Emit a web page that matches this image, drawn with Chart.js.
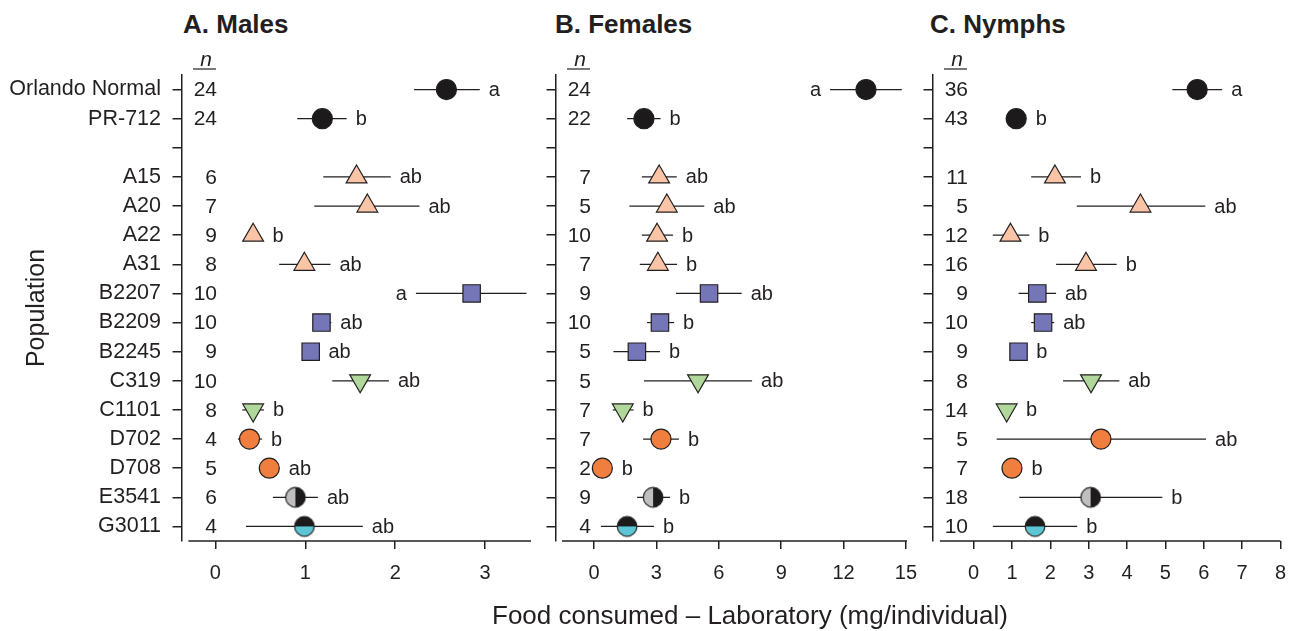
<!DOCTYPE html>
<html>
<head>
<meta charset="utf-8">
<script src="https://cdn.jsdelivr.net/npm/chart.js@4.4.1/dist/chart.umd.min.js"></script>
<style>
  body { margin: 0; background: #fff; width: 1298px; height: 631px; position: relative; overflow: hidden;
         font-family: "Liberation Sans", Arial, sans-serif; color: #231f20; }
  canvas { position: absolute; top: 0; }
  .panel-title { position: absolute; top: 11px; font-weight: bold; font-size: 26px; line-height: 26px; white-space: nowrap; }
  #xtitle { position: absolute; top: 602px; left: 750px; transform: translateX(-50%); font-size: 26px; line-height: 26px; white-space: nowrap; }
</style>
</head>
<body>
<div class="panel-title" style="left:183px">A. Males</div>
<div class="panel-title" style="left:555px">B. Females</div>
<div class="panel-title" style="left:930px">C. Nymphs</div>
<canvas id="males" width="560" height="631" style="left:0px"></canvas>
<canvas id="females" width="420" height="631" style="left:520px"></canvas>
<canvas id="nymphs" width="398" height="631" style="left:900px"></canvas>
<div id="xtitle">Food consumed – Laboratory (mg/individual)</div>
<script>
// rows, top to bottom (third row is an empty spacer)
const categories = ['Orlando Normal', 'PR-712', '', 'A15', 'A20', 'A22', 'A31', 'B2207', 'B2209',
                    'B2245', 'C319', 'C1101', 'D702', 'D708', 'E3541', 'G3011'];

const malesN       = [24, 24, null, 6, 7, 9, 8, 10, 10, 9, 10, 8, 4, 5, 6, 4];
const malesMean    = [2.57, 1.19, null, 1.57, 1.69, 0.42, 0.99, 2.85, 1.18, 1.06, 1.61, 0.42, 0.38, 0.60, 0.89, 0.99];
const malesLow     = [2.21, 0.91, null, 1.20, 1.10, 0.42, 0.71, 2.23, 1.09, 1.06, 1.30, 0.30, 0.25, 0.60, 0.64, 0.34];
const malesHigh    = [2.94, 1.46, null, 1.95, 2.27, 0.42, 1.28, 3.46, 1.29, 1.06, 1.93, 0.54, 0.52, 0.60, 1.14, 1.64];
const malesLetters = ['a', 'b', '', 'ab', 'ab', 'b', 'ab', 'a', 'ab', 'ab', 'ab', 'b', 'b', 'ab', 'ab', 'ab'];

const femalesN       = [24, 22, null, 7, 5, 10, 7, 9, 10, 5, 5, 7, 7, 2, 9, 4];
const femalesMean    = [13.08, 2.40, null, 3.13, 3.50, 3.03, 3.07, 5.53, 3.17, 2.06, 5.00, 1.38, 3.22, 0.40, 2.84, 1.59];
const femalesLow     = [11.35, 1.59, null, 2.30, 1.70, 2.30, 2.20, 3.94, 2.55, 0.93, 2.40, 0.90, 2.36, 0.40, 2.07, 0.33];
const femalesHigh    = [14.80, 3.20, null, 3.98, 5.30, 3.80, 3.99, 7.10, 3.85, 3.17, 7.60, 1.90, 4.08, 0.40, 3.65, 2.88];
const femalesLetters = ['a', 'b', '', 'ab', 'ab', 'b', 'b', 'ab', 'b', 'b', 'ab', 'b', 'b', 'b', 'b', 'b'];

const nymphsN       = [36, 43, null, 11, 5, 12, 16, 9, 10, 9, 8, 14, 5, 7, 18, 10];
const nymphsMean    = [5.83, 1.11, null, 2.12, 4.35, 0.96, 2.93, 1.66, 1.81, 1.17, 3.06, 0.86, 3.32, 1.00, 3.05, 1.60];
const nymphsLow     = [5.18, 1.11, null, 1.50, 2.69, 0.50, 2.15, 1.17, 1.50, 1.17, 2.33, 0.86, 0.60, 1.00, 1.19, 0.50];
const nymphsHigh    = [6.48, 1.11, null, 2.80, 6.04, 1.45, 3.73, 2.15, 2.10, 1.17, 3.80, 0.86, 6.06, 1.00, 4.92, 2.70];
const nymphsLetters = ['a', 'b', '', 'b', 'ab', 'b', 'b', 'ab', 'ab', 'b', 'ab', 'b', 'ab', 'b', 'b', 'b'];

const malesTicks   = [0, 1, 2, 3];
const femalesTicks = [0, 3, 6, 9, 12, 15];
const nymphsTicks  = [0, 1, 2, 3, 4, 5, 6, 7, 8];

const ink = '#231f20';
const family = '"Liberation Sans", Arial, sans-serif';

/**
 * Builds a round marker split in two colours (used for the mixed strains).
 */
function halfCircle(first, second, vertical) {
  const c = document.createElement('canvas');
  c.width = 24; c.height = 24;
  const g = c.getContext('2d');
  const r = 9.8;
  g.fillStyle = first;
  g.beginPath();
  vertical ? g.arc(12, 12, r, Math.PI / 2, Math.PI * 1.5) : g.arc(12, 12, r, Math.PI, 0);
  g.fill();
  g.fillStyle = second;
  g.beginPath();
  vertical ? g.arc(12, 12, r, -Math.PI / 2, Math.PI / 2) : g.arc(12, 12, r, 0, Math.PI);
  g.fill();
  g.strokeStyle = ink; g.lineWidth = 1.2;
  g.beginPath(); g.arc(12, 12, r, 0, Math.PI * 2); g.stroke();
  return c;
}
const grayBlack = halfCircle('#bfbfbf', '#1c1a1b', true);
const blackCyan = halfCircle('#1c1a1b', '#5dc6d5', false);

function marker(name) {
  if (name === 'E3541') return {style: grayBlack, radius: 10, rot: 0, fill: ink, half: 10.5};
  if (name === 'G3011') return {style: blackCyan, radius: 10, rot: 0, fill: ink, half: 10.5};
  switch (name[0]) {
    case 'A': return {style: 'triangle', radius: 12, rot: 0, fill: '#f9c5a6', half: 10.4};
    case 'B': return {style: 'rect', radius: 12.3, rot: 0, fill: '#7476b8', half: 8.7};
    case 'C': return {style: 'triangle', radius: 12, rot: 180, fill: '#afd89a', half: 10.4};
    case 'D': return {style: 'circle', radius: 10, rot: 0, fill: '#f07e3e', half: 10.5};
    default:  return {style: 'circle', radius: 10, rot: 0, fill: '#1c1a1b', half: 10.5};
  }
}

/**
 * Error bars, significance letters, the n column and the offset x axis line.
 */
function rowPlugin(n, mean, low, high, letters, leftRows, lineStart) {
  return {
    id: 'rows',
    beforeDatasetsDraw(chart) {
      const {ctx, chartArea, scales: {x, y}} = chart;
      ctx.save();
      ctx.strokeStyle = ink;
      ctx.lineWidth = 1.5;
      ctx.beginPath();
      ctx.moveTo(x.getPixelForValue(lineStart), chartArea.bottom);
      ctx.lineTo(chartArea.right, chartArea.bottom);
      ctx.stroke();
      ctx.lineWidth = 1.2;
      for (let i = 0; i < low.length; i++) {
        if (low[i] == null || low[i] === high[i]) continue;
        const py = y.getPixelForValue(i);
        ctx.beginPath();
        ctx.moveTo(x.getPixelForValue(low[i]), py);
        ctx.lineTo(x.getPixelForValue(high[i]), py);
        ctx.stroke();
      }
      ctx.restore();
    },
    afterDatasetsDraw(chart) {
      const {ctx, chartArea, scales: {x, y}} = chart;
      ctx.save();
      ctx.fillStyle = ink;
      ctx.textBaseline = 'middle';
      for (let i = 0; i < categories.length; i++) {
        if (mean[i] == null) continue;
        const py = y.getPixelForValue(i) + 1;
        const px = x.getPixelForValue(mean[i]);
        const half = marker(categories[i]).half;
        ctx.font = '20px ' + family;
        if (leftRows.includes(i)) {
          ctx.textAlign = 'right';
          ctx.fillText(letters[i], Math.min(x.getPixelForValue(low[i]), px - half) - 9, py);
        } else {
          ctx.textAlign = 'left';
          ctx.fillText(letters[i], Math.max(x.getPixelForValue(high[i]), px + half) + 9, py);
        }
        ctx.font = '21px ' + family;
        ctx.textAlign = 'right';
        ctx.fillText(String(n[i]), chartArea.left + 35, py);
      }
      // n header
      ctx.font = 'italic 21px ' + family;
      ctx.textAlign = 'center';
      ctx.fillText('n', chartArea.left + 24, 60);
      ctx.strokeStyle = ink;
      ctx.lineWidth = 1.2;
      ctx.beginPath();
      ctx.moveTo(chartArea.left + 11, 69);
      ctx.lineTo(chartArea.left + 34, 69);
      ctx.stroke();
      ctx.restore();
    }
  };
}

function makePanel(id, cfg) {
  const points = [];
  cfg.mean.forEach((m, i) => { if (m != null) points.push({x: m, y: i}); });
  const style = key => c => marker(categories[c.raw.y])[key];
  return new Chart(document.getElementById(id), {
    type: 'scatter',
    data: {
      datasets: [{
        data: points,
        pointStyle: style('style'),
        pointRadius: style('radius'),
        pointRotation: style('rot'),
        backgroundColor: style('fill'),
        borderColor: ink,
        borderWidth: 1.2
      }]
    },
    options: {
      responsive: false,
      animation: false,
      layout: {padding: {top: 75, right: cfg.padRight, bottom: 0, left: 0}},
      plugins: {legend: {display: false}, tooltip: {enabled: false}},
      scales: {
        x: {
          type: 'linear',
          min: cfg.min,
          max: cfg.max,
          afterBuildTicks: s => { s.ticks = cfg.ticks.map(v => ({value: v})); },
          afterFit: s => { s.height = 90; },
          grid: {drawOnChartArea: false, tickLength: 8, color: ink, lineWidth: 1.5},
          border: {display: false},
          ticks: {font: {size: 20, family: family}, color: ink, padding: 12, maxRotation: 0, autoSkip: false}
        },
        y: {
          type: 'linear',
          reverse: true,
          min: -0.5,
          max: 15.5,
          afterBuildTicks: s => { s.ticks = categories.map((c, i) => ({value: i})); },
          afterFit: s => { s.width = cfg.yWidth; },
          grid: {drawOnChartArea: false, tickLength: 9.5, color: ink, lineWidth: 1.5},
          border: {display: true, color: ink, width: 1.5},
          ticks: {
            callback: v => cfg.labels ? categories[v] : '',
            font: {size: 21.5, family: family}, color: ink, padding: 11.5, autoSkip: false
          },
          title: {
            display: cfg.labels,
            text: 'Population',
            font: {size: 25, family: family},
            color: ink,
            padding: {top: 22, bottom: 0}
          }
        }
      }
    },
    plugins: [rowPlugin(cfg.n, cfg.mean, cfg.low, cfg.high, cfg.letters, cfg.leftRows, cfg.lineStart)]
  });
}

makePanel('males', {
  n: malesN, mean: malesMean, low: malesLow, high: malesHigh, letters: malesLetters,
  ticks: malesTicks, min: -0.371, max: 3.51, lineStart: -0.3, leftRows: [7],
  yWidth: 182, padRight: 29, labels: true
});
makePanel('females', {
  n: femalesN, mean: femalesMean, low: femalesLow, high: femalesHigh, letters: femalesLetters,
  ticks: femalesTicks, min: -1.83, max: 15.05, lineStart: -1.54, leftRows: [0],
  yWidth: 36, padRight: 33, labels: false
});
makePanel('nymphs', {
  n: nymphsN, mean: nymphsMean, low: nymphsLow, high: nymphsHigh, letters: nymphsLetters,
  ticks: nymphsTicks, min: -1.06, max: 8, lineStart: -0.88, leftRows: [],
  yWidth: 33, padRight: 15, labels: false
});
</script>
</body>
</html>
